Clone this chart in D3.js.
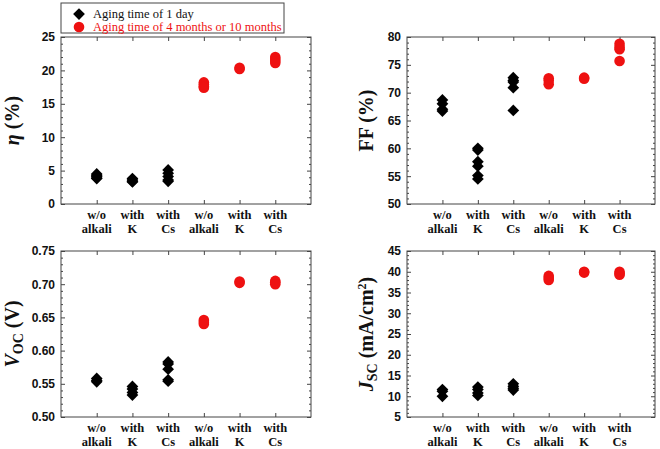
<!DOCTYPE html>
<html>
<head>
<meta charset="utf-8">
<script src="https://cdn.jsdelivr.net/npm/d3@7"></script>
<style>
  body { margin: 0; background: #fff; }
  svg { display: block; font-family: "Liberation Serif", "Times New Roman", serif; }
  .tick text { font-size: 12px; font-weight: bold; fill: #111; }
  .tick line { stroke: #444; }
</style>
</head>
<body>
<svg width="660" height="449"></svg>
<script>
// categories along the x axis (two text lines each)
var categories = [["w/o", "alkali"], ["with", "K"], ["with", "Cs"],
                  ["w/o", "alkali"], ["with", "K"], ["with", "Cs"]];

// efficiency (%) - day 1 groups at positions 1-3, aged at 4-6
var etaDay1 = [[4.5, 4.3, 4.1, 3.9, 3.8], [3.8, 3.6, 3.4, 3.3], [5.1, 4.6, 4.1, 3.6, 3.4]];
var etaAged = [[18.2, 17.9, 17.6, 17.4], [20.4, 20.2], [22.0, 21.7, 21.4, 21.1]];

// fill factor (%)
var ffDay1 = [[68.7, 68.0, 67.0, 66.7], [60.0, 59.7, 57.6, 56.8, 55.1, 54.5], [72.7, 72.2, 71.9, 70.9, 66.8]];
var ffAged = [[72.6, 72.2, 71.5], [72.7, 72.5], [78.8, 78.2, 77.8, 75.7]];

// Voc (V)
var vocDay1 = [[0.558, 0.555, 0.553], [0.546, 0.542, 0.537, 0.533], [0.583, 0.580, 0.572, 0.556, 0.554]];
var vocAged = [[0.646, 0.643, 0.640], [0.704, 0.702], [0.705, 0.703, 0.700]];

// Jsc (mA/cm2)
var jscDay1 = [[11.6, 11.2, 10.0], [12.2, 11.6, 10.8, 10.2], [13.0, 12.4, 11.9, 11.5]];
var jscAged = [[39.0, 38.5, 38.0], [40.0, 39.8], [40.0, 39.6, 39.3]];

// y axis tick values
var etaTicks = [0, 5, 10, 15, 20, 25];
var ffTicks = [50, 55, 60, 65, 70, 75, 80];
var vocTicks = [0.50, 0.55, 0.60, 0.65, 0.70, 0.75];
var jscTicks = [5, 10, 15, 20, 25, 30, 35, 40, 45];

var legendLabels = ["Aging time of 1 day", "Aging time of 4 months or 10 months"];

var svg = d3.select("svg");
var red = "#ee1111";
var diamond = d3.symbol().type(d3.symbolDiamond2).size(88);

function panel(cfg) {
    var g = svg.append("g");
    var x = d3.scaleLinear().domain([0, 7]).range([cfg.left, cfg.right]);
    var y = d3.scaleLinear().domain([cfg.ticks[0], cfg.ticks[cfg.ticks.length - 1]]).range([cfg.bottom, cfg.top]);
    var step = (cfg.ticks[1] - cfg.ticks[0]) / 5;
    var minor = d3.range(1, (cfg.ticks.length - 1) * 5).filter(function(i) { return i % 5; })
        .map(function(i) { return cfg.ticks[0] + i * step; });
    var xpos = d3.range(1, 7);

    // minor ticks left/right
    g.append("g").attr("transform", "translate(" + cfg.left + ",0)")
        .call(d3.axisLeft(y).tickValues(minor).tickSize(-2).tickFormat(""));
    g.append("g").attr("transform", "translate(" + cfg.right + ",0)")
        .call(d3.axisRight(y).tickValues(minor).tickSize(-2).tickFormat(""));
    // major ticks
    g.append("g").attr("transform", "translate(" + cfg.left + ",0)")
        .call(d3.axisLeft(y).tickValues(cfg.ticks).tickSize(-4).tickPadding(6).tickFormat(d3.format(cfg.fmt)));
    g.append("g").attr("transform", "translate(" + cfg.right + ",0)")
        .call(d3.axisRight(y).tickValues(cfg.ticks).tickSize(-4).tickFormat(""));
    g.append("g").attr("transform", "translate(0," + cfg.bottom + ")")
        .call(d3.axisBottom(x).tickValues(xpos).tickSize(-4).tickFormat(""));
    g.append("g").attr("transform", "translate(0," + cfg.top + ")")
        .call(d3.axisTop(x).tickValues(xpos).tickSize(-4).tickFormat(""));
    g.selectAll(".domain").remove();

    g.append("rect").attr("x", cfg.left).attr("y", cfg.top)
        .attr("width", cfg.right - cfg.left).attr("height", cfg.bottom - cfg.top)
        .attr("fill", "none").attr("stroke", "#444").attr("stroke-width", 1);

    // category labels
    var lab = g.selectAll(".cat").data(categories).enter().append("text")
        .attr("text-anchor", "middle")
        .attr("font-size", 12.5).attr("font-weight", "bold").attr("fill", "#111");
    lab.append("tspan").attr("x", function(d, i) { return x(i + 1); }).attr("y", cfg.bottom + 15)
        .text(function(d) { return d[0]; });
    lab.append("tspan").attr("x", function(d, i) { return x(i + 1); }).attr("y", cfg.bottom + 29)
        .text(function(d) { return d[1]; });

    // day 1 diamonds
    cfg.day1.forEach(function(vals, i) {
        g.selectAll(null).data(vals).enter().append("path")
            .attr("d", diamond)
            .attr("transform", function(v) { return "translate(" + x(i + 1) + "," + y(v) + ")"; })
            .attr("fill", "#000");
    });
    // aged circles
    cfg.aged.forEach(function(vals, i) {
        g.selectAll(null).data(vals).enter().append("circle")
            .attr("cx", x(i + 4)).attr("cy", function(v) { return y(v); })
            .attr("r", 5.3).attr("fill", red);
    });

    // y title
    var t = g.append("text")
        .attr("transform", "translate(" + cfg.titleX + "," + ((cfg.top + cfg.bottom) / 2) + ") rotate(-90)")
        .attr("text-anchor", "middle").attr("font-size", 20).attr("font-weight", "bold").attr("fill", "#111");
    cfg.title(t);
}

panel({left: 61, right: 311, top: 37, bottom: 204, ticks: etaTicks, fmt: "d",
    day1: etaDay1, aged: etaAged, titleX: 19,
    title: function(t) {
        t.append("tspan").attr("font-style", "italic").text("η");
        t.append("tspan").text(" (%)");
    }});

panel({left: 407, right: 655, top: 37, bottom: 204, ticks: ffTicks, fmt: "d",
    day1: ffDay1, aged: ffAged, titleX: 373,
    title: function(t) { t.text("FF (%)"); }});

panel({left: 61, right: 311, top: 251, bottom: 417, ticks: vocTicks, fmt: ".2f",
    day1: vocDay1, aged: vocAged, titleX: 19,
    title: function(t) {
        t.append("tspan").attr("font-style", "italic").text("V");
        t.append("tspan").attr("font-size", 14).attr("dy", 4).text("OC");
        t.append("tspan").attr("dy", -4).text(" (V)");
    }});

panel({left: 407, right: 655, top: 251, bottom: 417, ticks: jscTicks, fmt: "d",
    day1: jscDay1, aged: jscAged, titleX: 373,
    title: function(t) {
        t.append("tspan").attr("font-style", "italic").text("J");
        t.append("tspan").attr("font-size", 14).attr("dy", 4).text("SC");
        t.append("tspan").attr("dy", -4).text(" (mA/cm");
        t.append("tspan").attr("font-size", 12).attr("dy", -7).text("2");
        t.append("tspan").attr("dy", 7).text(")");
    }});

// legend
var lg = svg.append("g");
lg.append("rect").attr("x", 61).attr("y", 3).attr("width", 223).attr("height", 30)
    .attr("fill", "#fff").attr("stroke", "#444");
lg.append("path").attr("d", diamond).attr("transform", "translate(79,14)").attr("fill", "#000");
lg.append("circle").attr("cx", 79).attr("cy", 27).attr("r", 5.3).attr("fill", red);
lg.selectAll(".lt").data(legendLabels).enter().append("text")
    .attr("x", 93).attr("y", function(d, i) { return 18 + i * 13; })
    .attr("font-size", 12.5)
    .attr("fill", function(d, i) { return i ? red : "#111"; })
    .text(function(d) { return d; });
</script>
</body>
</html>
